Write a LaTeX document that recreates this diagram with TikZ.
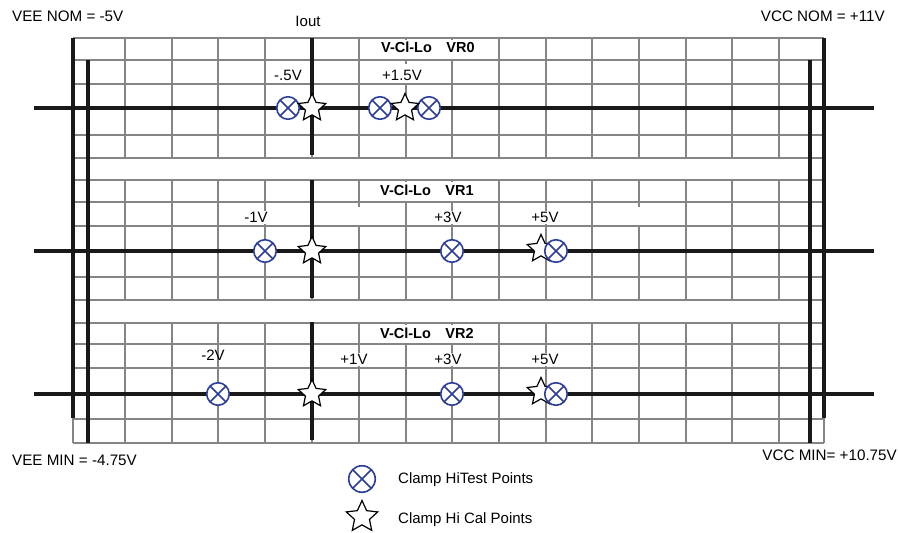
\documentclass[tikz,border=0pt]{standalone}
\usepackage{fontspec}
\setmainfont{Liberation Sans}
\usetikzlibrary{shapes.geometric}
\definecolor{gridgray}{HTML}{858585}
\definecolor{markblue}{HTML}{2B3D99}
\tikzset{
  gridline/.style={draw=gridgray, line width=1.4pt},
  heavyline/.style={draw=black!90, line width=4.9pt},
  patch/.style={fill=white},
  lbl/.style={font=\fontsize{15}{17}\selectfont, inner sep=1.5pt, anchor=base},
  wlbl/.style={lbl, fill=white},
  ttl/.style={font=\fontsize{14.5}{16}\selectfont\bfseries, inner sep=0pt, anchor=base west},
  corner/.style={font=\fontsize{15.2}{17}\selectfont, inner sep=0pt},
  otimesmark/.style={circle, draw=markblue, line width=1.6pt, fill=white,
    minimum size=22.5pt, inner sep=0pt,
    path picture={\draw[markblue, line width=1.6pt]
      (path picture bounding box.north west) -- (path picture bounding box.south east)
      (path picture bounding box.north east) -- (path picture bounding box.south west);}},
  starmark/.style={star, star points=5, star point ratio=2.1, draw=black, fill=white,
    line width=1.2pt, minimum size=29pt, inner sep=0pt},
}
\begin{document}
\begin{tikzpicture}[x=1pt,y=-1pt]
\useasboundingbox (0,0) rectangle (898,533);
% ---- grid ----
\foreach \top/\rows in {38/{38,60,84,108,135,158}, 180/{180,202,226,251,277,300}, 323/{323,344,368,394,419,443}}{
  \foreach \r in \rows { \draw[gridline] (73,\r) -- (824,\r); }
}
\foreach \a/\b in {38/158, 180/300, 323/443}{
  \foreach \c in {125,172,218,265,312,359,406,452,499,546,592,639,686,732,779}{
    \draw[gridline] (\c,\a) -- (\c,\b);
  }
}
\draw[gridline] (73,38) -- (73,443);
\draw[gridline] (824,38) -- (824,443);
% ---- white patches behind titles and labels ----
\fill[patch] (376,39.5) rectangle (482,58.8);
\fill[patch] (376,181.5) rectangle (482,201);
\fill[patch] (376,324.5) rectangle (482,343);
\fill[patch] (382,63.5) rectangle (424,83.2);
\fill[patch] (355,207) rectangle (363,225.3);
\fill[patch] (635,206.5) rectangle (643,225.3);
% ---- heavy lines ----
\draw[heavyline] (73,38) -- (73,418);
\draw[heavyline] (88,60) -- (88,443);
\draw[heavyline] (810,60) -- (810,443);
\draw[heavyline] (824,38) -- (824,418);
\draw[heavyline] (34,108) -- (874,108);
\draw[heavyline] (34,251) -- (874,251);
\draw[heavyline] (34,394) -- (874,394);
\draw[heavyline] (312,38) -- (312,155);
\draw[heavyline] (312,180) -- (312,298);
\draw[heavyline] (312,322) -- (312,440);
% ---- texts ----
\node[corner, anchor=base west] (veenom) at (12,21.7) {VEE NOM = -5V};
\node[corner, anchor=base east] (vccnom) at (885,21.7) {VCC NOM = +11V};
\node[corner, anchor=base west] (veemin) at (12,465) {VEE MIN = -4.75V};
\node[corner, anchor=base east] (vccmin) at (897,460.7) {VCC MIN= +10.75V};
\node[lbl] (iout) at (308,26) {Iout};
\node[ttl] (t0) at (381,52.7) {V-Cl-Lo\quad VR0};
\node[ttl] (t1) at (380,195) {V-Cl-Lo\quad VR1};
\node[ttl] (t2) at (380,338) {V-Cl-Lo\quad VR2};
\node[wlbl] (a1) at (288,80.7) {-.5V};
\node[wlbl] (a2) at (402,80.7) {+1.5V};
\node[wlbl] (b1) at (256,222.7) {-1V};
\node[wlbl] (b2) at (448,222.7) {+3V};
\node[wlbl] (b3) at (545,222.7) {+5V};
\node[lbl] (c1) at (213,360) {-2V};
\node[wlbl] (c2) at (354,364.7) {+1V};
\node[wlbl] (c3) at (448,364.7) {+3V};
\node[wlbl] (c4) at (545,364.7) {+5V};
% ---- markers ----
\node[otimesmark] (p1) at (288,108) {};
\node[otimesmark] (p2) at (380,108) {};
\node[otimesmark] (p3) at (429,108) {};
\node[starmark] (s1) at (312,108) {};
\node[starmark] (s2) at (405,108) {};
\node[otimesmark] (q1) at (265,251) {};
\node[otimesmark] (q2) at (452,251) {};
\node[starmark] (u1) at (312,251) {};
\node[starmark] (u2) at (541,249) {};
\node[otimesmark] (q3) at (556,251) {};
\node[otimesmark] (r1) at (218,394) {};
\node[otimesmark] (r2) at (452,394) {};
\node[starmark] (v1) at (312,394) {};
\node[starmark] (v2) at (541,392) {};
\node[otimesmark] (r3) at (556,394) {};
% ---- legend ----
\node[otimesmark, minimum size=26.5pt] (legO) at (362,479) {};
\node[starmark, minimum size=33pt] (legS) at (362,517) {};
\node[lbl, anchor=base west, inner sep=0pt] (legOt) at (398,483) {Clamp HiTest Points};
\node[lbl, anchor=base west, inner sep=0pt] (legSt) at (398,523) {Clamp Hi Cal Points};
\end{tikzpicture}
\end{document}
